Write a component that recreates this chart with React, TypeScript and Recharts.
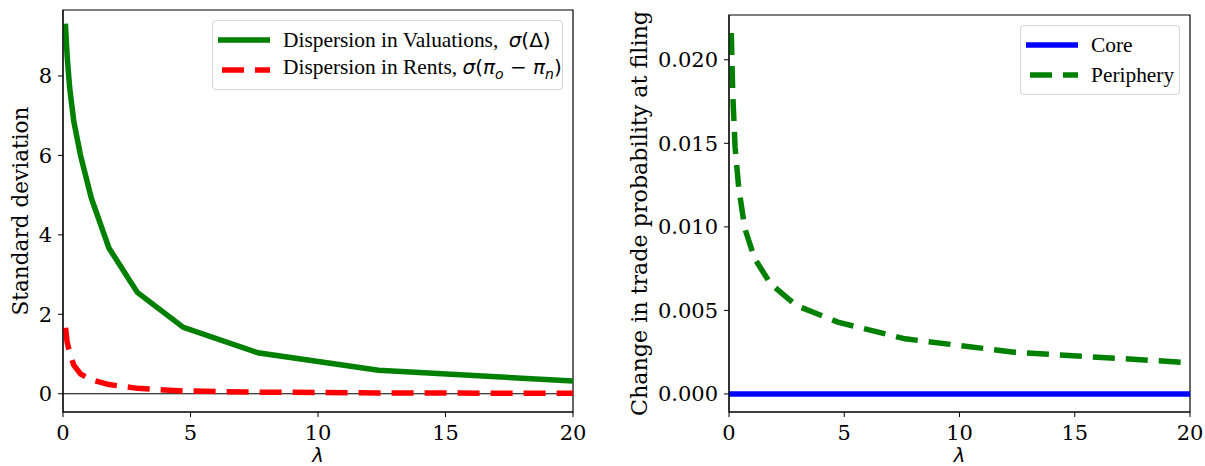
import React from 'react'
import { LineChart, Line, XAxis, YAxis, Legend, ReferenceLine, ReferenceArea, Label } from 'recharts'

// lambda grid (shared by both panels)
const lambda = [0.1, 0.162, 0.262, 0.424, 0.687, 1.112, 1.8, 2.915, 4.72, 7.64, 12.37, 20]

// left panel: standard deviations
const valuationSd = [9.25, 8.5, 7.7, 6.85, 6.0, 4.92, 3.67, 2.55, 1.67, 1.03, 0.59, 0.32]
const rentSd = [1.66, 1.3, 1.03, 0.72, 0.5, 0.35, 0.23, 0.135, 0.07, 0.04, 0.02, 0.01]

// right panel: change in trade probability at filing
const coreChange = [0, 0, 0, 0, 0, 0, 0, 0, 0, 0, 0, 0]
const peripheryChange = [0.0216, 0.018, 0.0148, 0.0123, 0.0099, 0.0081, 0.0066, 0.0053, 0.0043, 0.0033, 0.0025, 0.00187]

const xTicks = [0, 5, 10, 15, 20]
const leftYTicks = [0, 2, 4, 6, 8]
const rightYTicks = [0, 0.005, 0.01, 0.015, 0.02]
const leftDomain = [-0.46, 9.66]
const rightDomain = [-0.00108, 0.02268]

const leftData = lambda.map((l, i) => ({ lambda: l, valuation: valuationSd[i], rent: rentSd[i] }))
const rightData = lambda.map((l, i) => ({ lambda: l, core: coreChange[i], periphery: peripheryChange[i] }))

const SERIF = '"DejaVu Serif", serif'
const tickStyle = { fill: '#000', fontSize: 21, fontFamily: SERIF }
const DASH = '22 11'

const YLabel = ({ viewBox, value, dx, size }: any) => {
  const cx = viewBox.x + dx
  const cy = viewBox.y + viewBox.height / 2
  return (
    <text x={cx} y={cy} transform={`rotate(-90 ${cx} ${cy})`} textAnchor="middle" dominantBaseline="central"
      fill="#000" fontSize={size} fontFamily={SERIF}>{value}</text>
  )
}

const XLabel = ({ viewBox }: any) => (
  <text x={viewBox.x + viewBox.width / 2} y={viewBox.y + 49.5} textAnchor="middle"
    fill="#000" fontSize={19.5} fontFamily='"DejaVu Sans", sans-serif' fontStyle="italic">λ</text>
)

type Entry = { color: string; dashed: boolean; label: React.ReactNode }

const LegendBox = ({ entries, width }: { entries: Entry[]; width: number }) => (
  <div style={{
    position: 'relative', width, height: 70, boxSizing: 'border-box',
    border: '1px solid #d4d4d4', borderRadius: 4, background: 'rgba(255,255,255,0.8)',
  }}>
    {entries.map((e, i) => (
      <div key={i} style={{ position: 'absolute', left: 0, top: 19 + i * 30 - 15, height: 30, display: 'flex', alignItems: 'center' }}>
        <svg width={70} height={30} style={{ display: 'block' }}>
          <line x1={5} x2={57} y1={15} y2={15} stroke={e.color} strokeWidth={5.5}
            strokeDasharray={e.dashed ? DASH : undefined} strokeDashoffset={e.dashed ? -4 : undefined} />
        </svg>
        <span style={{ fontFamily: '"Liberation Serif", serif', fontSize: 21.4, color: '#000', whiteSpace: 'nowrap', lineHeight: '30px' }}>
          {e.label}
        </span>
      </div>
    ))}
  </div>
)

const M = ({ children, gap = 0 }: any) => (
  <span style={{ fontFamily: '"DejaVu Sans", sans-serif', fontSize: 20, marginLeft: gap }}>{children}</span>
)
const I = ({ children }: any) => <i>{children}</i>

const leftEntries: Entry[] = [
  { color: '#008000', dashed: false, label: <>Dispersion in Valuations, <M gap={5}><I>σ</I>(Δ)</M></> },
  { color: '#ff0000', dashed: true, label: <>Dispersion in Rents, <M><I>σ</I>(<I>π</I><sub style={{ fontSize: 14 }}><I>o</I></sub> − <I>π</I><sub style={{ fontSize: 14 }}><I>n</I></sub>)</M></> },
]

const rightEntries: Entry[] = [
  { color: '#0000ff', dashed: false, label: 'Core' },
  { color: '#008000', dashed: true, label: 'Periphery' },
]

export default function App() {
  return (
    <div style={{ position: 'absolute', left: 0, top: 0, width: 1205, height: 466, background: '#fff' }}>
      {/* left panel */}
      <div style={{ position: 'absolute', left: 0, top: 0 }}>
        <LineChart width={600} height={466} data={leftData} margin={{ top: 10, right: 27, bottom: 0, left: 0 }}>
          <XAxis dataKey="lambda" type="number" domain={[0, 20]} ticks={xTicks} allowDataOverflow height={54}
            tick={tickStyle} tickSize={5} tickMargin={8} stroke="#000" tickLine={{ stroke: '#000' }}>
            <Label content={<XLabel />} />
          </XAxis>
          <YAxis type="number" domain={leftDomain} ticks={leftYTicks} allowDataOverflow width={63}
            tick={tickStyle} tickSize={5} tickMargin={6} stroke="#000" tickLine={{ stroke: '#000' }}>
            <Label content={<YLabel value="Standard deviation" dx={20} size={21.6} />} />
          </YAxis>
          <ReferenceArea x1={0} x2={20} y1={leftDomain[0]} y2={leftDomain[1]} fill="none" stroke="#000" strokeWidth={1.2} />
          <ReferenceLine y={0} stroke="#000" strokeWidth={1.2} />
          <Line dataKey="valuation" stroke="#008000" strokeWidth={5.5} strokeLinecap="square" dot={false} activeDot={false} isAnimationActive={false} />
          <Line dataKey="rent" stroke="#ff0000" strokeWidth={5.5} strokeDasharray={DASH} dot={false} activeDot={false} isAnimationActive={false} />
          <Legend layout="vertical" align="center" verticalAlign="middle"
            wrapperStyle={{ left: 212, top: 20, width: 351 }}
            content={() => <LegendBox entries={leftEntries} width={351} />} />
        </LineChart>
      </div>

      {/* right panel */}
      <div style={{ position: 'absolute', left: 600, top: 0 }}>
        <LineChart width={605} height={466} data={rightData} margin={{ top: 15, right: 15, bottom: 0, left: 0 }}>
          <XAxis dataKey="lambda" type="number" domain={[0, 20]} ticks={xTicks} allowDataOverflow height={54}
            tick={tickStyle} tickSize={5} tickMargin={8} stroke="#000" tickLine={{ stroke: '#000' }}>
            <Label content={<XLabel />} />
          </XAxis>
          <YAxis type="number" domain={rightDomain} ticks={rightYTicks} allowDataOverflow width={129}
            tick={tickStyle} tickSize={5} tickMargin={6} stroke="#000" tickLine={{ stroke: '#000' }}
            tickFormatter={(v: number) => v.toFixed(3)}>
            <Label content={<YLabel value="Change in trade probability at filing" dx={38.5} size={22.2} />} />
          </YAxis>
          <ReferenceArea x1={0} x2={20} y1={rightDomain[0]} y2={rightDomain[1]} fill="none" stroke="#000" strokeWidth={1.2} />
          <Line dataKey="core" stroke="#0000ff" strokeWidth={5.5} strokeLinecap="square" dot={false} activeDot={false} isAnimationActive={false} />
          <Line dataKey="periphery" stroke="#008000" strokeWidth={5.5} strokeDasharray={DASH} dot={false} activeDot={false} isAnimationActive={false} />
          <Legend layout="vertical" align="center" verticalAlign="middle"
            wrapperStyle={{ left: 420, top: 25, width: 160 }}
            content={() => <LegendBox entries={rightEntries} width={160} />} />
        </LineChart>
      </div>
    </div>
  )
}
